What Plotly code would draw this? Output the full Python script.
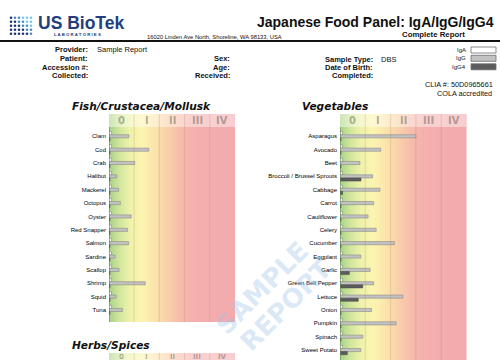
import plotly.graph_objects as go

W, H = 500, 360

# ---------------- data ----------------
class_labels = ["0", "I", "II", "III", "IV"]
isotypes = ["IgA", "IgG", "IgG4"]

fish_foods = ["Clam", "Cod", "Crab", "Halibut", "Mackerel", "Octopus", "Oyster",
              "Red Snapper", "Salmon", "Sardine", "Scallop", "Shrimp", "Squid", "Tuna"]
fish_iga = [0.10, 0.10, 0.10, 0.10, 0.10, 0.10, 0.10, 0.10, 0.10, 0.10, 0.10, 0.10, 0.10, 0.10]
fish_igg = [0.79, 1.58, 1.02, 0.31, 0.38, 0.45, 0.88, 0.74, 0.78, 0.24, 0.40, 1.44, 0.28, 0.53]
fish_igg4 = [0.04, 0.04, 0.04, 0.04, 0.04, 0.04, 0.04, 0.04, 0.04, 0.04, 0.04, 0.04, 0.04, 0.04]

veg_foods = ["Asparagus", "Avocado", "Beet", "Broccoli / Brussel Sprouts", "Cabbage", "Carrot",
             "Cauliflower", "Celery", "Cucumber", "Eggplant", "Garlic", "Green Bell Pepper",
             "Lettuce", "Onion", "Pumpkin", "Spinach", "Sweet Potato"]
veg_iga = [0.10, 0.10, 0.10, 0.10, 0.10, 0.10, 0.10, 0.10, 0.10, 0.10, 0.10, 0.10, 0.10, 0.10, 0.10, 0.10, 0.10]
veg_igg = [3.00, 1.61, 0.79, 1.29, 1.58, 1.33, 1.11, 1.43, 2.15, 0.82, 1.19, 1.33, 2.48, 1.25, 2.22, 0.90, 0.82]
veg_igg4 = [0.04, 0.04, 0.04, 0.83, 0.10, 0.04, 0.04, 0.04, 0.04, 0.04, 0.37, 0.90, 0.72, 0.04, 0.04, 0.04, 0.29]

# ---------------- helpers ----------------
def px(x):
    return x / W


def py(y):
    return 1 - y / H


ROW_OFFSET = 22.3
ROW_STEP = 13.36
BAR_COLORS = {"IgA": "white", "IgG": "rgb(194,194,194)", "IgG4": "rgb(92,92,92)"}
BAR_LINES = {"IgA": "rgb(120,120,120)", "IgG": "rgb(125,125,125)", "IgG4": "rgb(70,70,70)"}

grad = [
    [0.00, "rgb(170,210,135)"],
    [0.07, "rgb(205,228,155)"],
    [0.16, "rgb(238,242,170)"],
    [0.26, "rgb(252,244,176)"],
    [0.36, "rgb(251,228,172)"],
    [0.46, "rgb(249,208,170)"],
    [0.56, "rgb(247,188,172)"],
    [0.66, "rgb(244,175,174)"],
    [1.00, "rgb(243,170,174)"],
]

panels = [
    dict(title="Fish/Crustacea/Mollusk", foods=fish_foods, vals=[fish_iga, fish_igg, fish_igg4],
         x0=109, x1=235, top=114, head=127, bottom=322, tx=70, ty=105.5, hsize=10, hy=120.8),
    dict(title="Vegetables", foods=veg_foods, vals=[veg_iga, veg_igg, veg_igg4],
         x0=340, x1=466.5, top=114, head=127, bottom=360, tx=300, ty=105.5, hsize=10, hy=120.8),
    dict(title="Herbs/Spices", foods=[], vals=None,
         x0=109, x1=235, top=353, head=366, bottom=360, tx=70, ty=344.5, hsize=7, hy=356.6),
]

fig = go.Figure()
shapes = []
annotations = []
layout_axes = {}

gx = [i * 0.05 for i in range(101)]

for k, p in enumerate(panels):
    sfx = "" if k == 0 else str(k + 1)
    xa, ya = "x" + sfx, "y" + sfx
    row0 = p["top"] + ROW_OFFSET
    r_top = (p["top"] - row0) / ROW_STEP
    r_head = (p["head"] - row0) / ROW_STEP
    r_bot = (p["bottom"] - row0) / ROW_STEP

    # gradient background
    fig.add_trace(go.Heatmap(x=gx, y=[r_top, r_bot], z=[gx, gx], colorscale=grad,
                             zmin=0, zmax=5, zsmooth="best", showscale=False,
                             hoverinfo="skip", xaxis=xa, yaxis=ya))

    n = len(p["foods"])
    if n:
        for iso, vals in zip(isotypes, p["vals"]):
            fig.add_trace(go.Bar(y=list(range(n)), x=vals, orientation="h", name=iso,
                                 marker=dict(color=BAR_COLORS[iso],
                                             line=dict(color=BAR_LINES[iso], width=0.5)),
                                 xaxis=xa, yaxis=ya, hoverinfo="skip"))

    layout_axes["xaxis" + sfx] = dict(domain=[px(p["x0"]), px(p["x1"])], range=[0, 5],
                                      visible=False, anchor=ya, fixedrange=True)
    layout_axes["yaxis" + sfx] = dict(domain=[py(p["bottom"]), py(p["top"])],
                                      range=[r_bot, r_top], anchor=xa,
                                      tickvals=list(range(n)), ticktext=p["foods"],
                                      showgrid=False, zeroline=False, showline=False,
                                      ticks="", visible=bool(n), fixedrange=True,
                                      ticklabelstandoff=2,
                                      tickfont=dict(family="Liberation Sans", size=6, color="#000000"))

    # header band
    shapes.append(dict(type="rect", xref=xa, yref=ya, x0=0, x1=5, y0=r_top, y1=min(r_head, r_bot),
                       fillcolor="rgba(255,255,255,0.42)", line=dict(width=0), layer="above"))
    # column dividers
    for c in range(1, 5):
        shapes.append(dict(type="line", xref=xa, yref=ya, x0=c, x1=c, y0=r_top, y1=r_bot,
                           line=dict(color="rgba(170,110,80,0.22)", width=1), layer="above"))
    # zero axis line
    if n:
        shapes.append(dict(type="line", xref=xa, yref=ya, x0=0, x1=0, y0=r_head, y1=r_bot,
                           line=dict(color="rgb(100,140,80)", width=1.2), layer="above"))
    # header labels
    for c, lab in enumerate(class_labels):
        annotations.append(dict(xref=xa, x=c + 0.5, yref="paper", y=py(p["hy"]),
                                text="<b>" + lab + "</b>", showarrow=False,
                                font=dict(family="DejaVu Sans", size=p["hsize"], color="rgba(70,75,50,0.42)"),
                                xanchor="center", yanchor="middle"))
    # panel title
    annotations.append(dict(xref="paper", yref="paper", x=px(p["tx"]), y=py(p["ty"]),
                            text="<b><i>" + p["title"] + "</i></b>", showarrow=False,
                            xanchor="left", yanchor="middle",
                            font=dict(family="DejaVu Sans", size=10.6, color="#111")))


def txt(x, y, s, size=7.5, anchor="left", bold=False, color="#111", family="Liberation Sans"):
    annotations.append(dict(xref="paper", yref="paper", x=px(x), y=py(y),
                            text=("<b>%s</b>" % s) if bold else s, showarrow=False,
                            xanchor=anchor, yanchor="middle",
                            font=dict(family=family, size=size, color=color)))


# ---------------- header ----------------
navy = "rgb(35,62,125)"
txt(36, 23.5, "US BioTek", size=17.5, bold=True, color=navy)
txt(52, 34.5, "L A B O R A T O R I E S", size=4.3, bold=True, color=navy)
txt(145, 37, "16020 Linden Ave North, Shoreline, WA 98133, USA", size=5.8)
txt(496, 21.8, "Japanese Food Panel: IgA/IgG/IgG4", size=14, anchor="right", bold=True)
txt(467, 35, "Complete Report", size=7.8, anchor="right", bold=True)

shapes.append(dict(type="line", xref="paper", yref="paper", x0=0, x1=1, y0=py(41), y1=py(41),
                   line=dict(color="#111", width=2)))

# logo dots
for r in range(5):
    for c in range(6):
        t = (c - r + 4) / 9.0
        if t > 0.72:
            col = "rgb(120,200,230)"
        elif t > 0.45:
            col = "rgb(70,140,200)"
        else:
            col = "rgb(30,55,115)"
        cx, cy = 11 + c * 4, 17.7 + r * 4
        shapes.append(dict(type="circle", xref="paper", yref="paper",
                           x0=px(cx - 1.3), x1=px(cx + 1.3), y0=py(cy + 1.3), y1=py(cy - 1.3),
                           fillcolor=col, line=dict(width=0)))

txt(90, 50, "Provider:", anchor="right", bold=True)
txt(95, 50, "Sample Report")
txt(90, 58.7, "Patient:", anchor="right", bold=True)
txt(90, 67, "Accession #:", anchor="right", bold=True)
txt(90, 75.3, "Collected:", anchor="right", bold=True)
txt(232, 58.7, "Sex:", anchor="right", bold=True)
txt(232, 67, "Age:", anchor="right", bold=True)
txt(232, 75.3, "Received:", anchor="right", bold=True)
txt(374.5, 59.5, "Sample Type:", anchor="right", bold=True)
txt(379, 59.5, "DBS")
txt(374.5, 67.5, "Date of Birth:", anchor="right", bold=True)
txt(374.5, 75.3, "Completed:", anchor="right", bold=True)

# legend
leg_y = [50, 58.3, 66.8]
for iso, yy in zip(isotypes, leg_y):
    txt(468, yy, iso, size=6, anchor="right")
    shapes.append(dict(type="rect", xref="paper", yref="paper", x0=px(471), x1=px(496),
                       y0=py(yy + 3), y1=py(yy - 3), fillcolor=BAR_COLORS[iso],
                       line=dict(color="rgb(110,110,110)", width=0.8)))

txt(495, 84, "CLIA #: 50D0965661", size=7.3, anchor="right")
txt(494, 93.5, "COLA accredited", size=7.3, anchor="right")

# watermark
for word, cx, cy in [("SAMPLE", 262, 288), ("REPORT", 286, 305)]:
    annotations.append(dict(xref="paper", yref="paper", x=px(cx), y=py(cy), text="<b>" + word + "</b>",
                            showarrow=False, textangle=-45, xanchor="center", yanchor="middle",
                            font=dict(family="DejaVu Sans", size=26, color="rgba(160,195,232,0.38)")))

fig.update_layout(
    width=W, height=H, margin=dict(l=0, r=0, t=0, b=0),
    paper_bgcolor="white", plot_bgcolor="white",
    barmode="group", bargap=0.3, bargroupgap=0, hovermode=False,
    showlegend=False, shapes=shapes, annotations=annotations,
    **layout_axes,
)

fig.write_html("out.html", config={"displayModeBar": False, "staticPlot": True},
               post_script="document.body.style.margin='0px';document.body.style.padding='0px';")
